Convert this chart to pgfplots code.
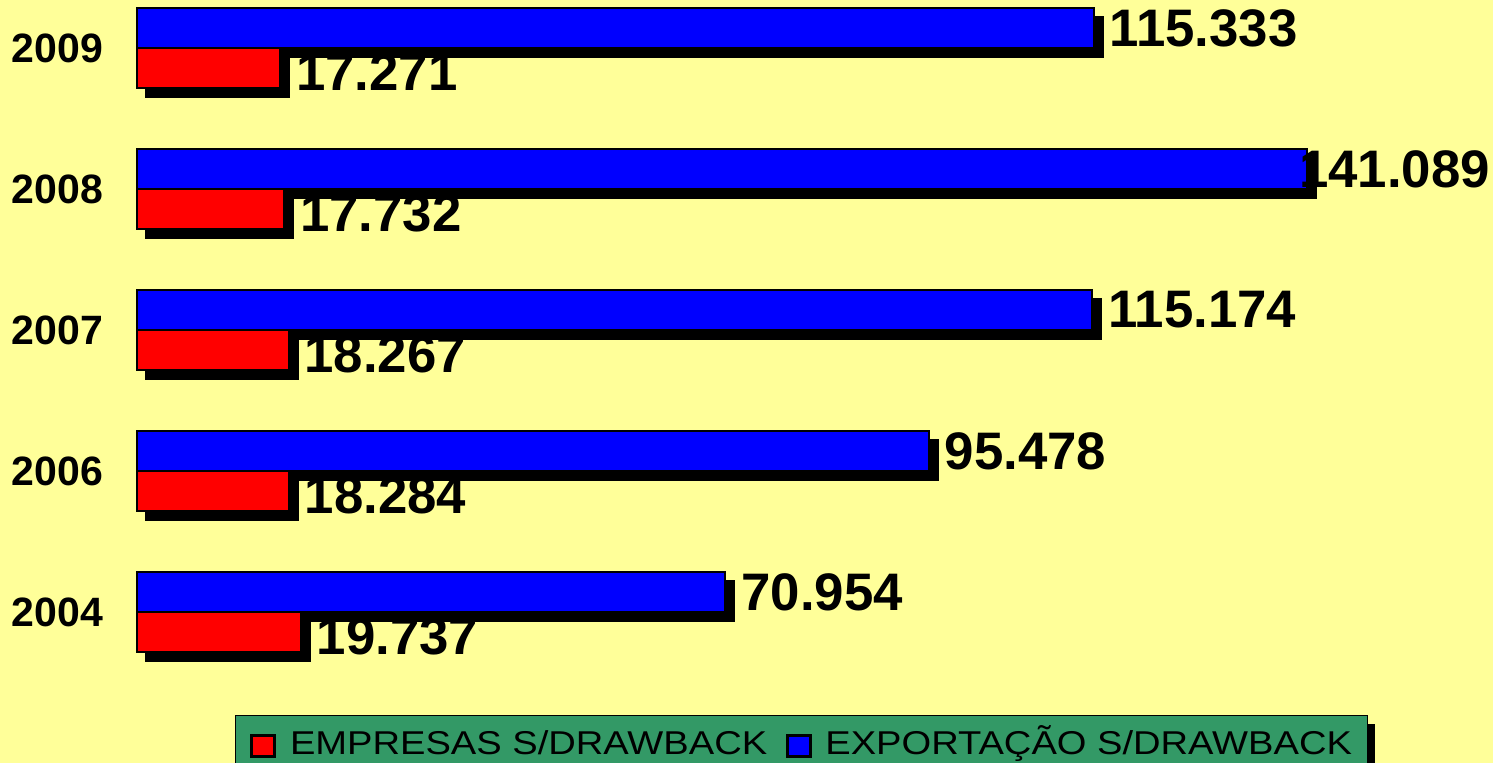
\documentclass[border=0pt]{standalone}
\usepackage{pgfplots}
\pgfplotsset{compat=1.18}
\usepackage{pgfplotstable}
\usepackage{graphicx}
\usepackage{fontspec}
\setmainfont{Liberation Sans}
\definecolor{bgyellow}{HTML}{FFFF99}
\definecolor{legendgreen}{HTML}{339966}
\definecolor{barblue}{HTML}{0000FF}
\definecolor{barred}{HTML}{FF0000}

\pgfplotstableread{
y x label dx
4 115.333 115.333 7.5
3 141.089 141.089 -4.5
2 115.174 115.174 7.5
1 95.478 95.478 7.5
0 70.954 70.954 7.5
}\tblue
\pgfplotstableread{
y x label dx
4 17.271 17.271 7.5
3 17.732 17.732 7.5
2 18.267 18.267 7.5
1 18.284 18.284 7.5
0 19.737 19.737 7.5
}\tred

\newcommand{\lt}[1]{\scalebox{1.155}[1]{#1}}

\pgfplotsset{
  common/.style={
    scale only axis, width=663.5pt, height=381.5pt,
    xmin=0, xmax=160, ymin=-1.0709, ymax=4.3404,
    xbar, bar width=20pt,
    axis line style={draw=none}, tick style={draw=none},
    xtick=\empty,
    clip=false,
    legend columns=2,
    reverse legend,
    legend style={
      at={(0.07385,0.0629)}, anchor=north west,
      draw=black,
      font=\fontsize{16.5}{16.5}\selectfont,
      inner xsep=7.5pt, inner ysep=8pt,
      nodes={inner sep=0pt, text height=11.8pt, text depth=0pt},
      /tikz/every even column/.append style={column sep=9.25pt},
      /tikz/every odd column/.append style={column sep=6.8pt},
    },
  }
}

\begin{document}
\begin{tikzpicture}[x=1pt,y=1pt]
\useasboundingbox (0,0) rectangle (746.5,381.5);
\fill[bgyellow] (0,0) rectangle (746.5,381.5);
\begin{pgfinterruptboundingbox}
% shadow layer
\begin{axis}[common,
  at={(73pt,-4.5pt)}, anchor=south west,
  ytick=\empty,
  legend style={fill=black, text=black},
]
\addplot[fill=black, draw=black, line width=1pt, bar shift=10pt,
  legend image code/.code={\fill[black] (0pt,-6.5pt) rectangle (11.5pt,4pt);}]
  table[x=x, y=y] {\tblue};
\addplot[fill=black, draw=black, line width=1pt, bar shift=-10pt,
  legend image code/.code={\fill[black] (0pt,-6.5pt) rectangle (11.5pt,4pt);}]
  table[x=x, y=y] {\tred};
\legend{\phantom{\lt{EXPORTAÇÃO S/DRAWBACK}}, \phantom{\lt{EMPRESAS S/DRAWBACK}}}
\end{axis}
% main layer
\begin{axis}[common,
  at={(68.5pt,0pt)}, anchor=south west,
  ytick={0,1,2,3,4}, yticklabels={2004,2006,2007,2008,2009},
  yticklabel style={font=\fontsize{20.5}{20.5}\selectfont\bfseries, inner sep=0pt, anchor=east, xshift=-12.5pt},
  point meta=explicit symbolic,
  nodes near coords,
  visualization depends on={\thisrow{dx} \as \dx},
  every node near coord/.append style={anchor=west, inner sep=0pt, text=black,
     font=\fontsize{26.4}{26.4}\selectfont\bfseries, xshift=\dx pt},
  legend style={fill=legendgreen},
]
\addplot[fill=barblue, draw=black, line width=1pt, bar shift=10pt,
  legend image code/.code={\draw[fill=barblue, draw=black, line width=1.5pt] (0pt,-6.5pt) rectangle (11.5pt,4pt);}]
  table[x=x, y=y, meta=label] {\tblue};
\addplot[fill=barred, draw=black, line width=1pt, bar shift=-10pt,
  every node near coord/.append style={yshift=-2pt},
  legend image code/.code={\draw[fill=barred, draw=black, line width=1.5pt] (0pt,-6.5pt) rectangle (11.5pt,4pt);}]
  table[x=x, y=y, meta=label] {\tred};
\legend{\lt{EXPORTAÇÃO S/DRAWBACK}, \lt{EMPRESAS S/DRAWBACK}}
\end{axis}
\end{pgfinterruptboundingbox}
\end{tikzpicture}
\end{document}
